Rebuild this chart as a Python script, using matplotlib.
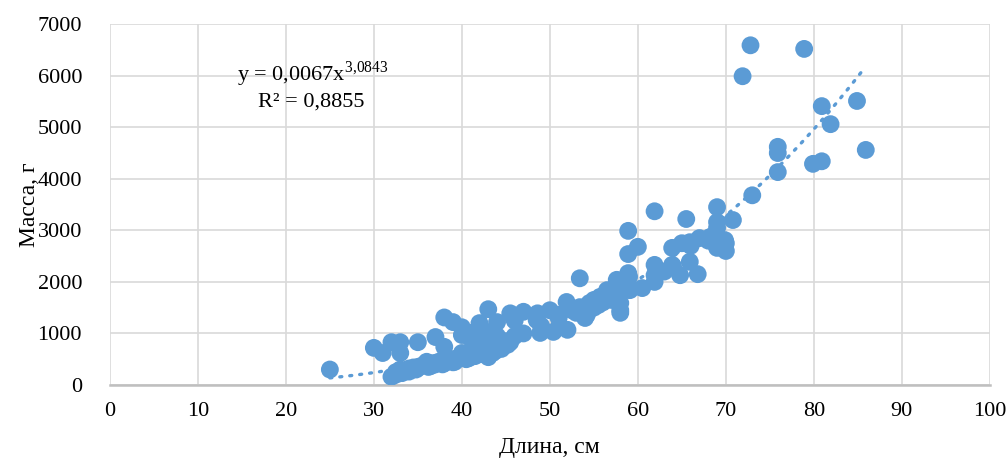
import numpy as np
import matplotlib.pyplot as plt

# Длина, см
length = [25, 30, 31, 32, 33, 33, 35, 37, 38, 38, 39, 40, 40, 41, 42, 43, 44, 45.5, 47, 45.5,
          43, 43.4, 43, 43.2, 32, 32.5, 33, 33.5, 34, 34.5, 35, 35.5, 36, 36, 36.5, 37, 37.5, 38,
          38.5, 39, 39.5, 40, 40, 40.5, 41, 41, 41.5, 42, 42, 42, 42.5, 43, 43, 43.5, 44, 44, 44.5,
          45, 46, 48.6, 50, 50.9, 48.5, 48.9, 50.4, 52, 51.9, 53.4, 54.2, 54.5, 55.7, 56.8, 58,
          57.6, 58.9, 59.1, 53.4, 53, 54, 55, 56, 55, 56.5, 57, 58, 58, 58.9, 60, 58.9, 59, 60.5,
          58.9, 56.5, 58, 61.9, 65.5, 69, 73, 69, 70.8, 63.9, 65, 65.9, 67, 68.2, 69, 69.9, 69.9,
          61.9, 61.9, 61.9, 63.9, 65.9, 64.8, 66.8, 63, 64, 66, 68, 70, 70, 69, 72.8, 71.9, 78.9,
          80.9, 81.9, 84.9, 85.9, 75.9, 75.9, 75.9, 79.9, 80.9, 32.5, 34, 35, 36.5, 37, 38, 39, 40.5,
          41.5, 43.5, 44.5, 46, 47, 49, 51, 52.5, 55.5, 57,
          33.2, 34.8, 36.2, 37.8, 39.2, 40.8, 42.2, 43.8, 45.2, 42.5, 41, 44, 53.8, 54.8, 56.2]
# Масса, г
mass = [300, 720, 620, 830, 830, 620, 830, 930, 740, 1310, 1220, 1120, 970, 1010, 1200, 1470, 1220, 1390, 1420, 830,
        870, 910, 540, 600, 160, 250, 300, 280, 320, 340, 350, 380, 400, 450, 420, 430, 460, 480,
        470, 500, 520, 540, 620, 600, 580, 650, 700, 650, 800, 900, 750, 700, 1000, 650, 700, 800, 750,
        850, 1250, 1390, 1450, 1360, 1260, 1010, 1030, 1070, 1610, 1510, 1360, 1590, 1710, 1800, 1450,
        2040, 2170, 1840, 2070, 1400, 1300, 1500, 1600, 1650, 1750, 1700, 1900, 1400, 2990, 2680, 2540, 2100, 1880,
        1900, 1840, 1590, 3370, 3220, 3450, 3680, 3160, 3200, 2660, 2750, 2770, 2850, 2870, 2660, 2660, 2810,
        2330, 2130, 2000, 2330, 2390, 2130, 2150, 2200, 2300, 2700, 2800, 2600, 2750, 3050, 6590, 5990, 6520,
        5410, 5060, 5510, 4560, 4620, 4500, 4130, 4290, 4340, 200, 260, 330, 370, 400, 420, 440, 500,
        560, 620, 700, 950, 1000, 1150, 1300, 1450, 1550, 1650,
        230, 300, 350, 400, 450, 520, 600, 660, 780, 1050, 900, 950, 1450, 1550, 1700]

# степенная линия тренда (как в Excel)
coef_a = 0.0067
coef_b = 3.0843
r2 = "0,8855"

plt.rcParams['font.family'] = ['Liberation Serif', 'DejaVu Serif']
plt.rcParams['mathtext.fontset'] = 'custom'
plt.rcParams['mathtext.rm'] = 'Liberation Serif'

blue = "#5B9BD5"

fig = plt.figure(figsize=(10.08, 4.62), dpi=100)
ax = fig.add_axes([0.109, 0.1667, 0.873, 0.781])

ax.scatter(length, mass, s=165, color=blue, edgecolors="none", zorder=3)

xt = np.linspace(min(length), max(length) - 0.4, 100)
ax.plot(xt, coef_a * xt ** coef_b, color=blue, linestyle=(0, (0.6, 2.4)), linewidth=2.4,
        dash_capstyle="round", zorder=2)

ax.set_xlim(0, 100)
ax.set_ylim(0, 7000)
ax.set_xticks(range(0, 101, 10))
ax.set_yticks(range(0, 7001, 1000))
ax.grid(True, color="#D9D9D9", linewidth=1.2)
ax.set_axisbelow(True)
for side in ["top", "right", "left"]:
    ax.spines[side].set_visible(False)
ax.spines["bottom"].set_color("#BFBFBF")
ax.spines["bottom"].set_linewidth(1.8)
ax.tick_params(axis="both", length=0, labelsize=16)
ax.tick_params(axis="y", pad=20)
ax.tick_params(axis="x", pad=12)

ax.set_xlabel("Длина, см", fontsize=17, labelpad=12)
ax.set_ylabel("Масса, г", fontsize=17, labelpad=-2)

ax.text(0.144, 0.842, r"y = 0,0067x$^{3{,}0843}$", transform=ax.transAxes, fontsize=16)
ax.text(0.168, 0.772, "R² = " + r2, transform=ax.transAxes, fontsize=16)

fig.savefig("out.png", dpi=100)
